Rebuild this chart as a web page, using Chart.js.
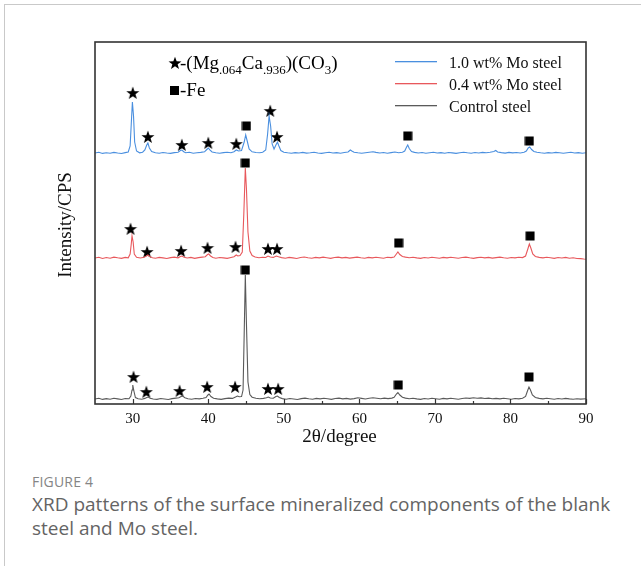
<!DOCTYPE html>
<html>
<head>
<meta charset="utf-8">
<script src="https://cdn.jsdelivr.net/npm/chart.js@4.4.1/dist/chart.umd.min.js"></script>
<style>
    body { margin: 0; background: #fff; width: 641px; height: 566px; overflow: hidden; position: relative; }
    #card { position: absolute; left: 4px; top: 4px; width: 700px; height: 620px; border-top: 1px solid #c9c9c9; border-left: 1px solid #c9c9c9; }
    #xrd { position: absolute; left: 0; top: 0; }
    .fig-label { position: absolute; left: 32px; top: 472px; font-family: "Open Sans", sans-serif; font-size: 14px; color: #858585; letter-spacing: 0.2px; }
    .fig-text { position: absolute; left: 32px; top: 492px; width: 590px; font-family: "Open Sans", sans-serif; font-size: 19px; line-height: 24px; color: #646464; }
</style>
</head>
<body>
<div id="card"></div>
<canvas id="xrd" width="641" height="460"></canvas>
<div class="fig-label">FIGURE 4</div>
<div class="fig-text">XRD patterns of the surface mineralized components of the blank steel and Mo steel.</div>
<script>
// 2theta (degree), intensity (arbitrary units, patterns stacked with offsets)
const seriesLabels = ["1.0 wt% Mo steel", "0.4 wt% Mo steel", "Control steel"];
const seriesColors = ["#4a8fdf", "#e8585c", "#5a5a5a"];

const mo10 = [
    [25, 251], [25.5, 251.8], [26, 250.6], [26.5, 251.3], [27, 250.8], [27.5, 251.6], [28, 251], [28.5, 250.5],
    [29, 251.4], [29.4, 252], [29.65, 258], [29.8, 280], [29.95, 302], [30.1, 288], [30.25, 262], [30.5, 253],
    [30.9, 251.2], [31.3, 251.8], [31.6, 254], [31.85, 259], [32.0, 261], [32.2, 256], [32.5, 252.5], [33, 251.3],
    [33.5, 250.7], [34, 251.5], [34.5, 251], [35, 250.6], [35.5, 251.4], [36, 251.8], [36.3, 253.5], [36.5, 254],
    [36.75, 252.3], [37, 251.2], [37.5, 251.7], [38, 250.8], [38.5, 251.3], [39, 251.6], [39.5, 252.2], [39.8, 254.5],
    [40.0, 256], [40.2, 254.2], [40.5, 252], [41, 251.2], [41.5, 250.7], [42, 251.4], [42.5, 251.8], [43, 251.2],
    [43.4, 252.3], [43.7, 254], [44.0, 253], [44.4, 253.5], [44.75, 262], [44.95, 269], [45.15, 263], [45.4, 255],
    [45.8, 252.2], [46.3, 251.5], [46.8, 251.2], [47.2, 251.8], [47.6, 254], [47.85, 270], [48.05, 288], [48.25, 278],
    [48.45, 260], [48.7, 255], [48.95, 259], [49.15, 262], [49.35, 258], [49.6, 253.5], [50, 251.8], [50.5, 251.2],
    [51, 250.7], [51.5, 251.4], [52, 251], [52.5, 251.6], [53, 250.9], [53.5, 251.3], [54, 251.8], [54.5, 251],
    [55, 250.6], [55.5, 251.3], [56, 251.7], [56.5, 251], [57, 251.4], [57.5, 250.8], [58, 251.5], [58.5, 252],
    [58.8, 254], [59.0, 253], [59.3, 251.8], [59.8, 251.2], [60.3, 250.7], [60.8, 251.3], [61.3, 251.8], [61.8, 252.3],
    [62.2, 251.6], [62.7, 251], [63.2, 251.5], [63.7, 250.8], [64.2, 251.4], [64.7, 252], [65.2, 251.3], [65.7, 251.8],
    [66.0, 253], [66.25, 257], [66.4, 259], [66.6, 255.5], [66.9, 252.5], [67.3, 251.6], [67.8, 251], [68.3, 251.5],
    [68.8, 250.7], [69.3, 251.3], [69.8, 251.8], [70.3, 251], [70.8, 251.4], [71.3, 250.8], [71.8, 251.5], [72.3, 251.1],
    [72.8, 250.6], [73.3, 251.3], [73.8, 251.8], [74.3, 251.2], [74.8, 250.8], [75.3, 251.5], [75.8, 251], [76.3, 251.6],
    [76.8, 251.2], [77.3, 251.7], [77.8, 252.5], [78.05, 253.5], [78.3, 252], [78.8, 251.4], [79.3, 250.9], [79.8, 251.6],
    [80.3, 251.1], [80.8, 251.5], [81.3, 251], [81.8, 251.8], [82.1, 253], [82.35, 256], [82.55, 257], [82.8, 254.5],
    [83.1, 252.5], [83.5, 251.7], [84, 251.2], [84.5, 250.8], [85, 251.4], [85.5, 251], [86, 251.6], [86.5, 251.2],
    [87, 250.7], [87.5, 251.3], [88, 251.7], [88.5, 251], [89, 251.4], [89.5, 250.8], [90, 251.2],
];

const mo04 = [
    [25, 146], [25.5, 146.8], [26, 145.5], [26.5, 146.5], [27, 145.8], [27.5, 146.9], [28, 146.2], [28.5, 145.6],
    [29, 146.6], [29.4, 146.2], [29.65, 150], [29.8, 160], [29.9, 168], [30.05, 162], [30.2, 150], [30.5, 146.8],
    [31, 146], [31.5, 146.7], [31.8, 148], [32.0, 149], [32.25, 147.5], [32.6, 146.3], [33, 145.7], [33.5, 146.6],
    [34, 146.1], [34.5, 145.5], [35, 146.4], [35.5, 146.9], [36, 146.2], [36.3, 147.5], [36.5, 148], [36.8, 146.8],
    [37.2, 146], [37.7, 146.6], [38.2, 145.6], [38.7, 146.4], [39.2, 146.9], [39.6, 147.3], [39.9, 149.5], [40.05, 150],
    [40.3, 148], [40.6, 146.5], [41, 145.8], [41.5, 146.5], [42, 146.1], [42.5, 145.6], [43, 146.5], [43.4, 147.2],
    [43.7, 149], [43.9, 148], [44.2, 148.5], [44.5, 152], [44.7, 190], [44.9, 236], [45.05, 215], [45.25, 172],
    [45.5, 153], [45.8, 148.5], [46.2, 147], [46.7, 146.3], [47.2, 146.8], [47.6, 146.5], [47.9, 148], [48.2, 147],
    [48.6, 146.6], [49.0, 148], [49.3, 147.2], [49.7, 146.4], [50.2, 145.8], [50.7, 146.6], [51.2, 146.1], [51.7, 145.5],
    [52.2, 146.5], [52.7, 147], [53.2, 146.2], [53.7, 145.7], [54.2, 146.6], [54.7, 146.1], [55.2, 146.9], [55.7, 146.3],
    [56.2, 145.6], [56.7, 146.5], [57.2, 146.9], [57.7, 146.1], [58.2, 146.6], [58.7, 145.9], [59.2, 146.4], [59.7, 146.9],
    [60.2, 146.2], [60.7, 145.7], [61.2, 146.6], [61.7, 146.1], [62.2, 146.8], [62.7, 146.3], [63.2, 145.8], [63.7, 146.7],
    [64.2, 146.4], [64.6, 147], [64.9, 150], [65.1, 152], [65.35, 149.5], [65.7, 147.5], [66.1, 146.9], [66.6, 146.3],
    [67.1, 146.8], [67.6, 146.1], [68.1, 145.6], [68.6, 146.5], [69.1, 146], [69.6, 146.7], [70.1, 146.2], [70.6, 145.7],
    [71.1, 146.6], [71.6, 146.1], [72.1, 146.8], [72.6, 146.3], [73.1, 145.8], [73.6, 146.5], [74.1, 146.9], [74.6, 146.2],
    [75.1, 145.6], [75.6, 146.4], [76.1, 146.8], [76.6, 146.1], [77.1, 146.6], [77.6, 145.9], [78.1, 146.4], [78.6, 146.9],
    [79.1, 146.3], [79.6, 145.8], [80.1, 146.5], [80.6, 146.1], [81.1, 146.7], [81.6, 146.4], [82.0, 148], [82.3, 155],
    [82.5, 160], [82.7, 156], [82.95, 150], [83.3, 147.5], [83.8, 146.6], [84.3, 146.1], [84.8, 146.7], [85.3, 146.2],
    [85.8, 145.6], [86.3, 146.5], [86.8, 146], [87.3, 146.6], [87.8, 145.8], [88.3, 146.3], [88.8, 145.5], [89.3, 145.4],
    [89.7, 145], [90, 144.8],
];

const control = [
    [25, 5], [25.5, 5.8], [26, 4.6], [26.5, 5.4], [27, 4.8], [27.5, 5.7], [28, 5.1], [28.5, 4.5],
    [29, 5.5], [29.5, 5.2], [29.75, 8], [29.9, 14], [30.0, 19], [30.15, 13], [30.35, 6.5], [30.7, 5.3],
    [31.2, 4.8], [31.6, 5.6], [31.85, 6.5], [32.05, 7], [32.3, 5.8], [32.7, 5], [33.2, 4.6], [33.7, 5.5],
    [34.2, 5], [34.7, 4.5], [35.2, 5.4], [35.7, 5.9], [36.1, 6.2], [36.4, 7.5], [36.6, 8], [36.9, 6.3],
    [37.3, 5.2], [37.8, 4.7], [38.3, 5.5], [38.8, 5.1], [39.3, 5.8], [39.7, 6.5], [39.95, 9], [40.1, 10],
    [40.35, 7.5], [40.7, 5.8], [41.2, 5.1], [41.7, 4.6], [42.2, 5.4], [42.7, 5.9], [43.2, 5.6], [43.6, 7],
    [43.85, 8], [44.1, 7.2], [44.4, 7.5], [44.6, 14], [44.75, 70], [44.9, 129], [45.05, 80], [45.25, 22],
    [45.5, 9.5], [45.8, 6.8], [46.3, 5.8], [46.8, 5.2], [47.3, 5.6], [47.7, 6.2], [47.95, 7], [48.2, 6],
    [48.6, 5.8], [48.95, 7.5], [49.15, 8], [49.4, 6.5], [49.8, 5.4], [50.3, 4.8], [50.8, 5.5], [51.3, 5],
    [51.8, 4.5], [52.3, 5.4], [52.8, 5.9], [53.3, 5.2], [53.8, 4.7], [54.3, 5.6], [54.8, 5.1], [55.3, 5.8],
    [55.8, 5.3], [56.3, 4.6], [56.8, 5.5], [57.3, 5.9], [57.8, 5.1], [58.3, 5.6], [58.8, 4.9], [59.3, 5.4],
    [59.8, 6.2], [60.3, 5.6], [60.8, 5], [61.3, 5.7], [61.8, 6.3], [62.3, 5.8], [62.8, 5.2], [63.3, 5.9],
    [63.8, 5.4], [64.3, 5.9], [64.6, 6.8], [64.9, 10], [65.1, 11.5], [65.35, 9], [65.7, 6.8], [66.1, 5.9],
    [66.6, 5.3], [67.1, 5.8], [67.6, 5.1], [68.1, 4.6], [68.6, 5.5], [69.1, 5], [69.6, 5.7], [70.1, 5.2],
    [70.6, 4.7], [71.1, 5.6], [71.6, 5.1], [72.1, 5.8], [72.6, 5.3], [73.1, 4.8], [73.6, 5.5], [74.1, 6],
    [74.6, 5.6], [75.1, 6.2], [75.6, 5.7], [76.1, 6.1], [76.6, 5.5], [77.1, 5.9], [77.6, 5.2], [78.1, 5.6],
    [78.6, 5.1], [79.1, 5.7], [79.6, 5.3], [80.1, 4.8], [80.6, 5.5], [81.1, 5.1], [81.6, 5.7], [82.0, 7.5],
    [82.25, 13], [82.45, 17], [82.65, 14], [82.9, 9], [83.3, 6.5], [83.8, 5.6], [84.3, 5.1], [84.8, 5.7],
    [85.3, 5.2], [85.8, 4.7], [86.3, 5.5], [86.8, 5], [87.3, 5.6], [87.8, 5.1], [88.3, 4.7], [88.8, 5.3],
    [89.3, 4.9], [90, 5.2],
];

// phase markers: star = (Mg.064Ca.936)(CO3), square = Fe
const starPts = [
    [30, 311], [32, 267], [36.5, 259], [40, 261], [43.7, 260], [48.2, 293], [49.1, 267],
    [29.7, 175], [31.9, 152], [36.4, 153], [39.9, 156], [43.6, 157], [47.9, 155], [49.1, 155],
    [30.1, 27], [31.8, 12], [36.2, 13], [39.85, 17], [43.55, 17], [47.9, 15], [49.25, 15],
];
const squarePts = [
    [45.05, 278], [66.4, 268], [82.5, 263],
    [44.9, 241], [65.2, 161], [82.6, 168],
    [44.9, 134], [65.15, 19], [82.45, 27],
];

const xMin = 25;
const xMax = 90;
const xTicks = [30, 40, 50, 60, 70, 80, 90];
const xMinorTicks = [35, 45, 55, 65, 75, 85];

const serif = "'Liberation Serif', 'Times New Roman', serif";

function starPath(ctx, cx, cy, outer, inner) {
    ctx.beginPath();
    for (let i = 0; i < 10; i++) {
        const r = i % 2 === 0 ? outer : inner;
        const a = -Math.PI / 2 + (i * Math.PI) / 5;
        const px = cx + r * Math.cos(a);
        const py = cy + r * Math.sin(a);
        if (i === 0) ctx.moveTo(px, py);
        else ctx.lineTo(px, py);
    }
    ctx.closePath();
}

function makeStar() {
    const c = document.createElement("canvas");
    c.width = 14;
    c.height = 14;
    const g = c.getContext("2d");
    g.fillStyle = "#000";
    starPath(g, 7, 7.4, 6.8, 2.8);
    g.fill();
    return c;
}

function makeSquare() {
    const c = document.createElement("canvas");
    c.width = 10;
    c.height = 10;
    const g = c.getContext("2d");
    g.fillStyle = "#000";
    g.fillRect(0.5, 0.5, 9, 9);
    return c;
}

const toXY = (arr) => arr.map(([x, y]) => ({ x: x, y: y }));

const framePlugin = {
    id: "frame",
    afterDraw(chart) {
        const ctx = chart.ctx;
        const a = chart.chartArea;
        const xs = chart.scales.x;
        ctx.save();

        // box around plot
        ctx.strokeStyle = "#333";
        ctx.lineWidth = 1.6;
        ctx.strokeRect(a.left, a.top, a.right - a.left, a.bottom - a.top);

        // inward ticks
        ctx.lineWidth = 1.2;
        ctx.beginPath();
        xTicks.forEach((v) => {
            const px = Math.round(xs.getPixelForValue(v)) + 0.5;
            ctx.moveTo(px, a.bottom);
            ctx.lineTo(px, a.bottom - 5);
        });
        xMinorTicks.forEach((v) => {
            const px = Math.round(xs.getPixelForValue(v)) + 0.5;
            ctx.moveTo(px, a.bottom);
            ctx.lineTo(px, a.bottom - 3);
        });
        ctx.stroke();

        // axis titles
        ctx.fillStyle = "#111";
        ctx.font = "19px " + serif;
        ctx.textAlign = "center";
        ctx.textBaseline = "middle";
        ctx.fillText("2\u03B8/degree", (a.left + a.right) / 2 - 1, 437);
        ctx.save();
        ctx.translate(66, 225);
        ctx.rotate(-Math.PI / 2);
        ctx.fillText("Intensity/CPS", 0, 0);
        ctx.restore();

        // legend
        ctx.font = "16px " + serif;
        ctx.textAlign = "left";
        ctx.textBaseline = "alphabetic";
        const rows = [61, 83, 105];
        seriesLabels.forEach((label, i) => {
            ctx.fillStyle = seriesColors[i];
            ctx.fillRect(395, rows[i], 42, 1.3);
            ctx.fillStyle = "#111";
            ctx.fillText(label, 449, rows[i] + 7);
        });

        // phase key
        ctx.fillStyle = "#000";
        starPath(ctx, 175, 63.5, 6.8, 2.8);
        ctx.fill();
        ctx.fillRect(170, 86, 9, 9);
        let x = 180;
        const base = 69;
        const part = (txt, size, dy) => {
            ctx.font = size + "px " + serif;
            ctx.fillText(txt, x, base + dy);
            x += ctx.measureText(txt).width;
        };
        part("-(Mg", 19, 0);
        part(".064", 13, 5);
        part("Ca", 19, 0);
        part(".936", 13, 5);
        part(")(CO", 19, 0);
        part("3", 13, 5);
        part(")", 19, 0);
        ctx.font = "19px " + serif;
        ctx.fillText("-Fe", 180, 96);

        ctx.restore();
    },
};

const lineDs = (label, data, color) => ({
    label: label,
    data: toXY(data),
    borderColor: color,
    borderWidth: 1.1,
    pointRadius: 0,
    tension: 0,
    fill: false,
});

new Chart(document.getElementById("xrd"), {
    type: "line",
    data: {
        datasets: [
            lineDs(seriesLabels[0], mo10, seriesColors[0]),
            lineDs(seriesLabels[1], mo04, seriesColors[1]),
            lineDs(seriesLabels[2], control, seriesColors[2]),
            {
                type: "scatter",
                label: "star",
                data: toXY(starPts),
                pointStyle: makeStar(),
                pointRadius: 7,
                showLine: false,
            },
            {
                type: "scatter",
                label: "square",
                data: toXY(squarePts),
                pointStyle: makeSquare(),
                pointRadius: 5,
                showLine: false,
            },
        ],
    },
    options: {
        responsive: false,
        animation: false,
        layout: { padding: { top: 42, right: 55, left: 0, bottom: 0 } },
        plugins: { legend: { display: false }, tooltip: { enabled: false } },
        scales: {
            x: {
                type: "linear",
                min: xMin,
                max: xMax,
                afterFit: (s) => { s.height = 56; },
                afterBuildTicks: (s) => { s.ticks = xTicks.map((v) => ({ value: v })); },
                grid: { display: false, drawTicks: false },
                border: { display: false },
                ticks: {
                    padding: 6,
                    color: "#111",
                    font: { family: serif, size: 15 },
                    maxRotation: 0,
                },
            },
            y: {
                min: 0,
                max: 362,
                afterFit: (s) => { s.width = 95; },
                grid: { display: false, drawTicks: false },
                border: { display: false },
                ticks: { display: false },
            },
        },
    },
    plugins: [framePlugin],
});
</script>
</body>
</html>
